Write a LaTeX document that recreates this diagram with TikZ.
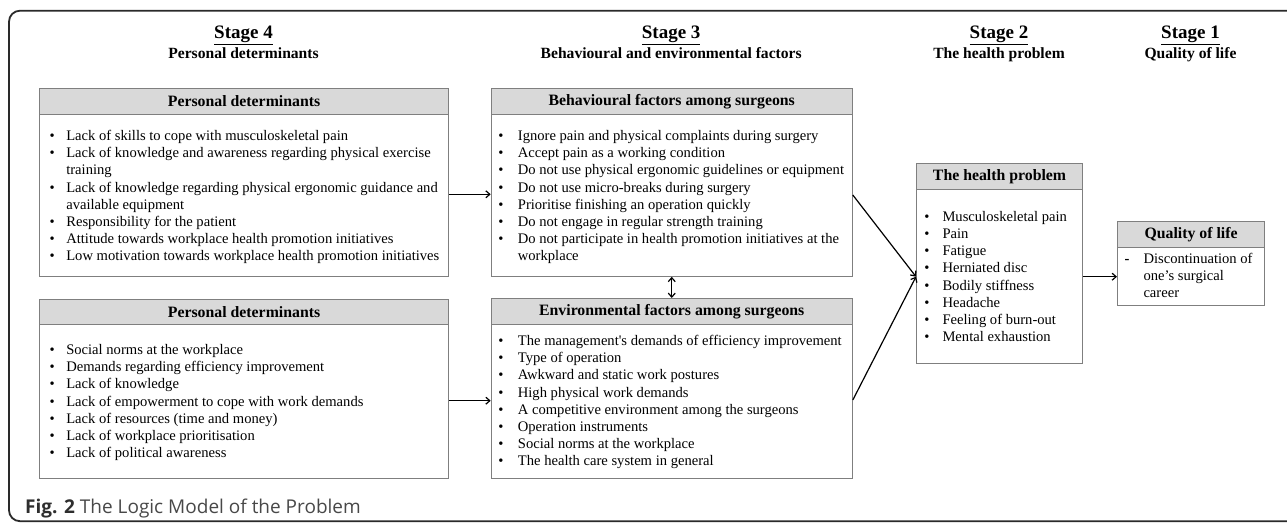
\documentclass[tikz,border=0pt]{standalone}
\usepackage{fontspec}
\setmainfont{Liberation Serif}
\newfontfamily\capfont{Open Sans}
\usetikzlibrary{arrows.meta}
\definecolor{boxline}{HTML}{7F7F7F}
\definecolor{headfill}{HTML}{D9D9D9}
\definecolor{capgray}{HTML}{484848}
\definecolor{capdark}{HTML}{2E2E2E}
\definecolor{framecol}{HTML}{2A2A2A}
\tikzset{
  stagetitle/.style={font=\fontsize{19}{21}\selectfont\bfseries, anchor=base, inner sep=0},
  stagesub/.style={font=\fontsize{15.6}{17}\selectfont\bfseries, anchor=base, inner sep=0},
  boxframe/.style={draw=boxline, line width=1.1pt, anchor=north west, inner sep=0},
  boxhead/.style={draw=boxline, fill=headfill, line width=1.1pt, anchor=north west, inner sep=0,
    font=\fontsize{15.8}{17}\selectfont\bfseries},
  itemlist/.style={anchor=base west, inner sep=0, font=\fontsize{14.6}{17.2}\selectfont},
  arr/.style={line width=1.2pt, -{Straight Barb[length=4pt,width=7pt]}},
  darr/.style={line width=1.2pt, {Straight Barb[length=4pt,width=7pt]}-{Straight Barb[length=4pt,width=7pt]}},
  frameline/.style={draw=framecol, line width=1.8pt, rounded corners=11pt}
}
\newcommand{\bul}{\textbullet}
\begin{document}
\begin{tikzpicture}[x=1pt,y=-1pt]
\useasboundingbox (0,0) rectangle (1287,524);
\draw[frameline] (1300,10.7) -- (9,10.7) -- (9,521.2) -- (1300,521.2);

% stage titles
\node[stagetitle] (st4) at (243.5,39) {\underline{Stage 4}};
\node[stagesub] (ss4) at (243.5,58.5) {Personal determinants};
\node[stagetitle] (st3) at (671.2,39) {\underline{Stage 3}};
\node[stagesub] (ss3) at (671.2,58.5) {Behavioural and environmental factors};
\node[stagetitle] (st2) at (999,39) {\underline{Stage 2}};
\node[stagesub] (ss2) at (999,58.5) {The health problem};
\node[stagetitle] (st1) at (1190.5,39) {\underline{Stage 1}};
\node[stagesub] (ss1) at (1190.5,58.5) {Quality of life};

% box 1
\node[boxframe, minimum width=408.4pt, minimum height=187.7pt] (p1) at (39.3,88) {};
\node[boxhead, minimum width=408.4pt, minimum height=26pt] (p1h) at (39.3,88) {Personal determinants};
\node[itemlist] (p1i) at (49.3,140.5) {\begin{tabular}[t]{@{}p{16.8pt}@{}l@{}}
\bul & Lack of skills to cope with musculoskeletal pain\\
\bul & Lack of knowledge and awareness regarding physical exercise\\
 & training\\
\bul & Lack of knowledge regarding physical ergonomic guidance and\\
 & available equipment\\
\bul & Responsibility for the patient\\
\bul & Attitude towards workplace health promotion initiatives\\
\bul & Low motivation towards workplace health promotion initiatives
\end{tabular}};

% box 2
\node[boxframe, minimum width=408.4pt, minimum height=179pt] (p2) at (39.3,299) {};
\node[boxhead, minimum width=408.4pt, minimum height=25pt] (p2h) at (39.3,299) {Personal determinants};
\node[itemlist] (p2i) at (49.3,354.5) {\begin{tabular}[t]{@{}p{16.8pt}@{}l@{}}
\bul & Social norms at the workplace\\
\bul & Demands regarding efficiency improvement\\
\bul & Lack of knowledge\\
\bul & Lack of empowerment to cope with work demands\\
\bul & Lack of resources (time and money)\\
\bul & Lack of workplace prioritisation\\
\bul & Lack of political awareness
\end{tabular}};

% behavioural
\node[boxframe, minimum width=361pt, minimum height=187.7pt] (beh) at (490.7,88) {};
\node[boxhead, minimum width=361pt, minimum height=26pt] (behh) at (490.7,88) {Behavioural factors among surgeons};
\node[itemlist] (behi) at (498.2,140.5) {\begin{tabular}[t]{@{}p{19.5pt}@{}l@{}}
\bul & Ignore pain and physical complaints during surgery\\
\bul & Accept pain as a working condition\\
\bul & Do not use physical ergonomic guidelines or equipment\\
\bul & Do not use micro-breaks during surgery\\
\bul & Prioritise finishing an operation quickly\\
\bul & Do not engage in regular strength training\\
\bul & Do not participate in health promotion initiatives at the\\
 & workplace
\end{tabular}};

% environmental
\node[boxframe, minimum width=361pt, minimum height=180pt] (env) at (490.7,298) {};
\node[boxhead, minimum width=361pt, minimum height=26pt] (envh) at (490.7,298) {Environmental factors among surgeons};
\node[itemlist] (envi) at (498.2,345.5) {\begin{tabular}[t]{@{}p{19.5pt}@{}l@{}}
\bul & The management\textquotesingle s demands of efficiency improvement\\
\bul & Type of operation\\
\bul & Awkward and static work postures\\
\bul & High physical work demands\\
\bul & A competitive environment among the surgeons\\
\bul & Operation instruments\\
\bul & Social norms at the workplace\\
\bul & The health care system in general
\end{tabular}};

% health problem
\node[boxframe, minimum width=166pt, minimum height=199.7pt] (health) at (916,163) {};
\node[boxhead, minimum width=166pt, minimum height=26pt] (healthh) at (916,163) {The health problem};
\node[itemlist] (healthi) at (924.2,221.2) {\begin{tabular}[t]{@{}p{18.1pt}@{}l@{}}
\bul & Musculoskeletal pain\\
\bul & Pain\\
\bul & Fatigue\\
\bul & Herniated disc\\
\bul & Bodily stiffness\\
\bul & Headache\\
\bul & Feeling of burn-out\\
\bul & Mental exhaustion
\end{tabular}};

% quality of life
\node[boxframe, minimum width=147pt, minimum height=84pt] (qol) at (1117,221) {};
\node[boxhead, minimum width=147pt, minimum height=26pt] (qolh) at (1117,221) {Quality of life};
\node[itemlist] (qoli) at (1124.3,263.5) {\begin{tabular}[t]{@{}p{19pt}@{}l@{}}
\textbf{-} & Discontinuation of\\
 & one’s surgical\\
 & career
\end{tabular}};

% connectors
\draw[arr] (p1.east |- 0,194.3) -- (beh.west |- 0,194.3);
\draw[arr] (p2.east |- 0,400.7) -- (env.west |- 0,400.7);
\coordinate (hin) at (health.west |- 0,276.7);
\draw[arr] (beh.east |- 0,195) -- (hin);
\draw[arr] (env.east |- 0,400) -- (hin);
\draw[arr] (health.east |- 0,276.7) -- (qol.west |- 0,276.7);
\draw[darr] (beh.south) -- (env.north);

% caption
\node[anchor=base west, inner sep=0, font=\capfont\fontsize{19}{22}\selectfont, text=capgray] (cap) at (25,513)
  {\textcolor{capdark}{\textbf{Fig. 2}} The Logic Model of the Problem};
\end{tikzpicture}
\end{document}
